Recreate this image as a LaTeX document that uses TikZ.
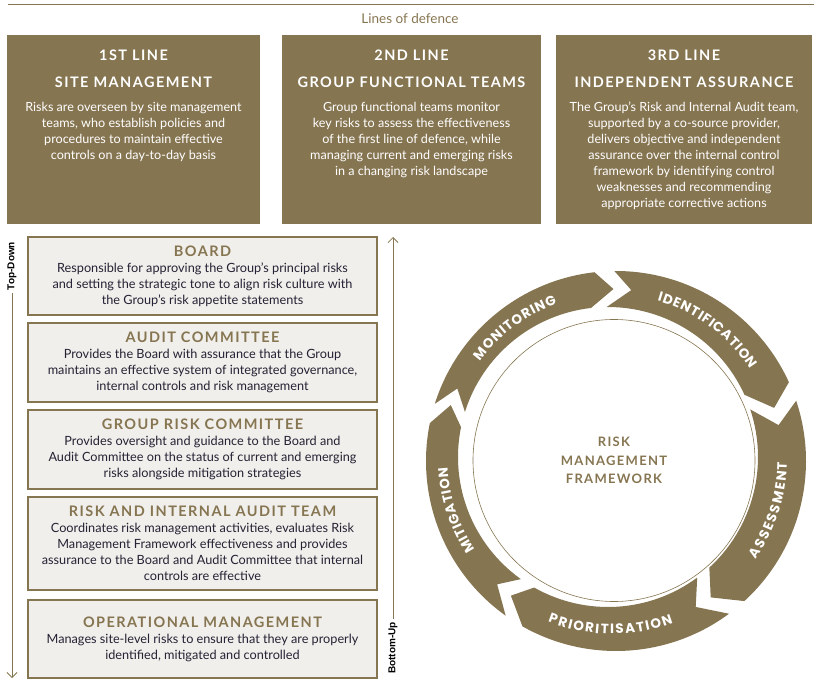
\documentclass[tikz,border=0pt]{standalone}
\usepackage{fontspec}
\setmainfont{Lato}
\newfontfamily\spacedfont[LetterSpace=10]{Lato}
\newfontfamily\flowfont{Liberation Sans}
\newfontfamily\cyclefont{Poppins}
\usetikzlibrary{arrows.meta,decorations.text}
\definecolor{lodbrown}{RGB}{134,117,81}
\definecolor{panelgrey}{RGB}{241,239,235}
\definecolor{inkblue}{RGB}{38,33,52}
\newcommand\govtitle[1]{{\spacedfont\bfseries\fontsize{14.5}{16}\selectfont\color{lodbrown}#1}}
\newcommand\ringfont{\cyclefont\fontsize{13.5}{15}\selectfont\bfseries}
\tikzset{
  linebox/.style={fill=lodbrown,minimum height=189,inner sep=0},
  linehead/.style={text=white,font=\spacedfont\bfseries\fontsize{14.5}{16}\selectfont,inner sep=0},
  linebody/.style={text=white,font=\fontsize{12.6}{16}\selectfont,align=center,anchor=north,inner sep=0},
  govbox/.style={draw=lodbrown,line width=1.2pt,fill=panelgrey,minimum width=349,text=inkblue,
    font=\fontsize{12.7}{16}\selectfont,align=center,inner sep=0},
  flowlabel/.style={rotate=90,font=\flowfont\bfseries\fontsize{10}{12}\selectfont,inner sep=3pt},
  flowline/.style={draw=lodbrown,line width=.8pt},
  ringpart/.style={fill=lodbrown},
  ringtext/.style={decorate,decoration={text along path,text align={fit to path},text color=white}},
  hubcircle/.style={circle,draw=lodbrown,line width=.6pt,minimum size=282,inner sep=0,text=lodbrown,
    align=center,font=\spacedfont\bfseries\fontsize{13}{18.5}\selectfont}
}
\begin{document}
\begin{tikzpicture}[x=1pt,y=1pt,line cap=butt,line join=miter,>={Straight Barb[length=5pt,width=10pt]}]
  \useasboundingbox (0,0) rectangle (823,-687);
  % lines of defence
  \draw[lodbrown,line width=1pt] (8,-5) -- (814,-5);
  \node[text=lodbrown,font=\fontsize{13.5}{15}\selectfont] (lod) at (410,-19) {Lines of defence};
  \node[linebox,minimum width=253] (first) at (133.5,-129.5) {};
  \node[linebox,minimum width=259] (second) at (411.5,-129.5) {};
  \node[linebox,minimum width=256] (third) at (684,-129.5) {};
  \node[linehead] (firstno) at (133.5,-55) {1ST LINE};
  \node[linehead] (firstname) at (133.5,-82) {SITE MANAGEMENT};
  \node[linebody] (firsttext) at (133.5,-102) {Risks are overseen by site management\\teams, who establish policies and\\procedures to maintain effective\\controls on a day-to-day basis};
  \node[linehead] (secondno) at (411.5,-55) {2ND LINE};
  \node[linehead] (secondname) at (411.5,-82) {GROUP FUNCTIONAL TEAMS};
  \node[linebody] (secondtext) at (411.5,-102) {Group functional teams monitor\\key risks to assess the effectiveness\\of the first line of defence, while\\managing current and emerging risks\\in a changing risk landscape};
  \node[linehead] (thirdno) at (684,-55) {3RD LINE};
  \node[linehead] (thirdname) at (684,-82) {INDEPENDENT ASSURANCE};
  \node[linebody] (thirdtext) at (684,-102) {The Group’s Risk and Internal Audit team,\\supported by a co-source provider,\\delivers objective and independent\\assurance over the internal control\\framework by identifying control\\weaknesses and recommending\\appropriate corrective actions};
  % governance boxes
  \node[govbox,minimum height=78] (board) at (202.5,-276) {\govtitle{BOARD}\\Responsible for approving the Group’s principal risks\\and setting the strategic tone to align risk culture with\\the Group’s risk appetite statements};
  \node[govbox,minimum height=79] (audit) at (202.5,-362.5) {\govtitle{AUDIT COMMITTEE}\\Provides the Board with assurance that the Group\\maintains an effective system of integrated governance,\\internal controls and risk management};
  \node[govbox,minimum height=79] (grouprisk) at (202.5,-449.5) {\govtitle{GROUP RISK COMMITTEE}\\Provides oversight and guidance to the Board and\\Audit Committee on the status of current and emerging\\risks alongside mitigation strategies};
  \node[govbox,minimum height=93] (riskaudit) at (202.5,-543.5) {\govtitle{RISK AND INTERNAL AUDIT TEAM}\\Coordinates risk management activities, evaluates Risk\\Management Framework effectiveness and provides\\assurance to the Board and Audit Committee that internal\\controls are effective};
  \node[govbox,minimum height=78] (operational) at (202.5,-639) {\govtitle{OPERATIONAL MANAGEMENT}\\Manages site-level risks to ensure that they are properly\\identified, mitigated and controlled};
  % top-down / bottom-up
  \node[flowlabel] (topdown) at (12,-266) {Top-Down};
  \coordinate (topdownend) at (12,-678);
  \draw[flowline,->] (topdown) -- (topdownend);
  \node[flowlabel] (bottomup) at (393,-648) {Bottom-Up};
  \coordinate (bottomupend) at (393,-237);
  \draw[flowline,->] (bottomup) -- (bottomupend);
  % risk management cycle
  \coordinate (outerc) at (616,-461);
  \coordinate (innerc) at (608,-457);
  \coordinate (midc) at (612,-459);
  \fill[ringpart] ([shift={(162.5:190)}]outerc) arc[start angle=162.5,end angle=96.5,radius=190]
    -- ([shift={(89.5:170)}]midc) -- ([shift={(96.5:150)}]innerc) arc[start angle=96.5,end angle=162.5,radius=150]
    -- ([shift={(155.5:170)}]midc) -- cycle;
  \fill[ringpart] ([shift={(90.5:190)}]outerc) arc[start angle=90.5,end angle=24.5,radius=190]
    -- ([shift={(17.5:170)}]midc) -- ([shift={(24.5:150)}]innerc) arc[start angle=24.5,end angle=90.5,radius=150]
    -- ([shift={(83.5:170)}]midc) -- cycle;
  \fill[ringpart] ([shift={(18.5:190)}]outerc) arc[start angle=18.5,end angle=-47.5,radius=190]
    -- ([shift={(-54.5:170)}]midc) -- ([shift={(-47.5:150)}]innerc) arc[start angle=-47.5,end angle=18.5,radius=150]
    -- ([shift={(11.5:170)}]midc) -- cycle;
  \fill[ringpart] ([shift={(-53.5:190)}]outerc) arc[start angle=-53.5,end angle=-119.5,radius=190]
    -- ([shift={(-126.5:170)}]midc) -- ([shift={(-119.5:150)}]innerc) arc[start angle=-119.5,end angle=-53.5,radius=150]
    -- ([shift={(-60.5:170)}]midc) -- cycle;
  \fill[ringpart] ([shift={(-125.5:190)}]outerc) arc[start angle=-125.5,end angle=-191.5,radius=190]
    -- ([shift={(-198.5:170)}]midc) -- ([shift={(-191.5:150)}]innerc) arc[start angle=-191.5,end angle=-125.5,radius=150]
    -- ([shift={(-132.5:170)}]midc) -- cycle;
  \path[ringtext,decoration={text={|\ringfont|MONITORING}}] ([shift={(143.5:164.5)}]midc) arc[start angle=143.5,end angle=109.5,radius=164.5];
  \path[ringtext,decoration={text={|\ringfont|IDENTIFICATION}}] ([shift={(74:164.5)}]midc) arc[start angle=74,end angle=33,radius=164.5];
  \path[ringtext,decoration={text={|\ringfont|ASSESSMENT}}] ([shift={(-35:175)}]midc) arc[start angle=-35,end angle=-1,radius=175];
  \path[ringtext,decoration={text={|\ringfont|PRIORITISATION}}] ([shift={(-111.5:175)}]midc) arc[start angle=-111.5,end angle=-69.5,radius=175];
  \path[ringtext,decoration={text={|\ringfont|MITIGATION}}] ([shift={(213.5:164.5)}]midc) arc[start angle=213.5,end angle=183,radius=164.5];
  \node[hubcircle] (hub) at (614,-460.5) {RISK\\MANAGEMENT\\FRAMEWORK};
\end{tikzpicture}
\end{document}
